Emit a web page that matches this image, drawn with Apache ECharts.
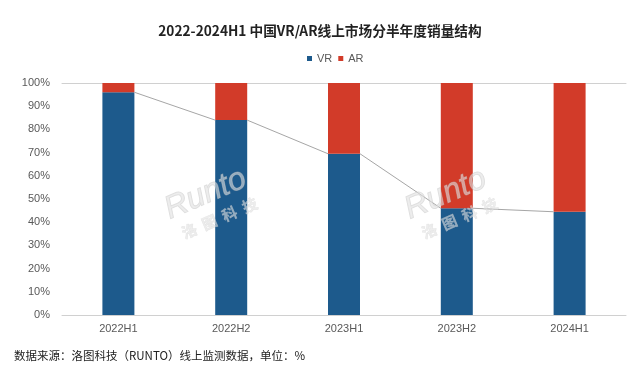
<!DOCTYPE html>
<html lang="zh" style="height: 100%">
<head>
<meta charset="utf-8">
<title>2022-2024H1 中国VR/AR线上市场分半年度销量结构</title>
</head>
<body style="height: 100%; margin: 0; background: #fff">
<div id="container" style="width: 640px; height: 382px"></div>

<script type="text/javascript" src="https://cdn.jsdelivr.net/npm/echarts/dist/echarts.min.js"></script>

<script type="text/javascript">

var categories = ['2022H1', '2022H2', '2023H1', '2023H2', '2024H1'];
var vrShare = [96, 84, 69.5, 46, 44.5];
var arShare = [4, 16, 30.5, 54, 55.5];
var yTicks = [0, 10, 20, 30, 40, 50, 60, 70, 80, 90, 100];

var BLUE = '#1d5a8c';
var RED = '#d23b29';
var BAR_W = 32;
var CJK = '"Noto Sans CJK SC", "Liberation Sans", sans-serif';

var dom = document.getElementById('container');
var myChart = echarts.init(dom, null, { renderer: 'canvas' });

// series lines between bar tops, like excel does
var lineData = vrShare.slice(0, -1).map(function (v, i) {
    return [i, v, vrShare[i + 1]];
});

function watermark(x, y) {
    return {
        type: 'group',
        x: x,
        y: y,
        rotation: 0.4,
        silent: true,
        z: 100,
        children: [
            {
                type: 'text',
                x: 0, y: 0, z: 100,
                style: {
                    text: 'Runto',
                    font: 'italic 32px "Liberation Sans", sans-serif',
                    fill: 'rgba(225,225,225,0.6)',
                    stroke: 'rgba(185,185,185,0.45)',
                    lineWidth: 1
                }
            },
            {
                type: 'text',
                x: 6, y: 36, z: 100,
                style: {
                    text: '洛  图  科  技',
                    font: 'bold 15px "Noto Sans CJK SC", sans-serif',
                    fill: 'rgba(225,225,225,0.6)',
                    stroke: 'rgba(185,185,185,0.35)',
                    lineWidth: 0.5
                }
            }
        ]
    };
}

var option = {
    animation: false,
    backgroundColor: '#fff',
    title: {
        text: '2022-2024H1 中国VR/AR线上市场分半年度销量结构',
        left: 'center',
        top: 19,
        textStyle: { fontFamily: CJK, fontSize: 13.7, fontWeight: 'bold', color: '#222' }
    },
    legend: {
        top: 48,
        left: 302,
        data: ['VR', 'AR'],
        icon: 'rect',
        itemWidth: 5,
        itemHeight: 5,
        itemGap: 6,
        textStyle: { fontFamily: '"Liberation Sans", sans-serif', fontSize: 11, color: '#595959' }
    },
    grid: { left: 62, right: 14, top: 83, bottom: 67 },
    xAxis: [
        {
            type: 'category',
            data: categories,
            axisTick: { show: false },
            axisLine: { lineStyle: { color: '#d0d0d0' } },
            axisLabel: { margin: 8, fontFamily: '"Liberation Sans", sans-serif', fontSize: 11, color: '#595959' }
        },
        {
            type: 'category',
            position: 'top',
            data: categories,
            axisTick: { show: false },
            axisLabel: { show: false },
            axisLine: { lineStyle: { color: '#d0d0d0' } }
        }
    ],
    yAxis: {
        type: 'value',
        min: yTicks[0],
        max: yTicks[yTicks.length - 1],
        interval: 10,
        splitLine: { show: false },
        axisLine: { show: false },
        axisTick: { show: false },
        axisLabel: {
            margin: 12,
            formatter: '{value}%',
            fontFamily: '"Liberation Sans", sans-serif',
            fontSize: 11,
            color: '#595959'
        }
    },
    series: [
        {
            name: 'VR',
            type: 'bar',
            stack: 'share',
            barWidth: BAR_W,
            itemStyle: { color: BLUE },
            data: vrShare
        },
        {
            name: 'AR',
            type: 'bar',
            stack: 'share',
            barWidth: BAR_W,
            itemStyle: { color: RED },
            data: arShare
        },
        {
            name: 'lines',
            type: 'custom',
            z: 5,
            silent: true,
            encode: { x: 0, y: 1 },
            renderItem: function (params, api) {
                var i = api.value(0);
                var p1 = api.coord([i, api.value(1)]);
                var p2 = api.coord([i + 1, api.value(2)]);
                return {
                    type: 'line',
                    shape: { x1: p1[0] + BAR_W / 2, y1: p1[1], x2: p2[0] - BAR_W / 2, y2: p2[1] },
                    style: { stroke: '#a6a6a6', lineWidth: 1 }
                };
            },
            data: lineData
        }
    ],
    graphic: [
        watermark(160, 196),
        watermark(400, 196),
        {
            type: 'text',
            left: 14,
            top: 350,
            style: {
                text: '数据来源：洛图科技（RUNTO）线上监测数据，单位：%',
                font: '11.5px "Noto Sans CJK SC", sans-serif',
                fill: '#222'
            }
        }
    ]
};

myChart.setOption(option);
window.addEventListener('resize', myChart.resize);
</script>
</body>
</html>
